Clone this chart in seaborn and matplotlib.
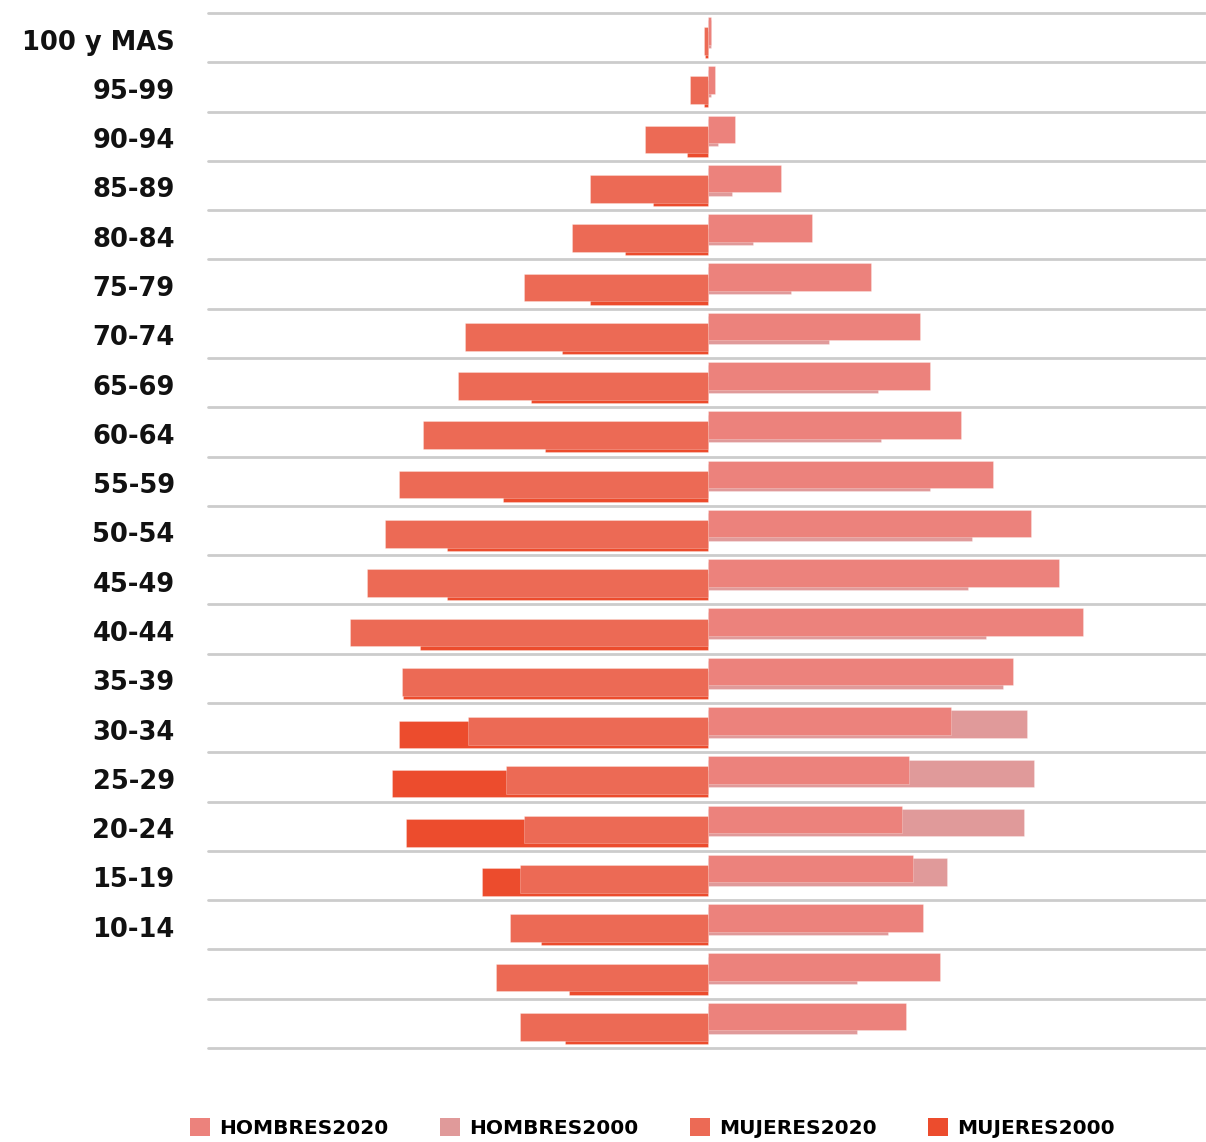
import matplotlib
matplotlib.use("Agg")
import numpy as np
import pandas as pd
import matplotlib.pyplot as plt
import seaborn as sns
from matplotlib.patches import Patch

# Age groups from oldest (top) to youngest (bottom)
age_groups = ["100 y MAS", "95-99", "90-94", "85-89", "80-84", "75-79", "70-74",
              "65-69", "60-64", "55-59", "50-54", "45-49", "40-44", "35-39",
              "30-34", "25-29", "20-24", "15-19", "10-14", "5-9", "0-4"]
tick_labels = age_groups[:19] + ["", ""]

hombres_2020 = [3.3, 7.3, 27.6, 73.0, 104.3, 163.3, 212.0, 222.3, 253.6, 285.0, 323.0,
                351.0, 375.3, 305.6, 243.3, 201.3, 194.6, 205.0, 215.3, 232.6, 198.0]
hombres_2000 = [3.0, 3.3, 10.6, 24.3, 45.0, 83.3, 121.6, 170.3, 173.6, 222.3, 264.3,
                260.6, 278.3, 295.3, 319.6, 326.6, 316.3, 239.6, 180.6, 149.3, 149.3]
mujeres_2020 = [3.5, 17.5, 62.5, 118.0, 135.4, 184.0, 243.0, 250.0, 284.7, 309.0, 323.0,
                340.4, 357.7, 305.7, 239.7, 201.4, 184.0, 187.7, 197.7, 211.7, 187.7]
mujeres_2000 = [3.0, 3.5, 21.0, 55.0, 83.0, 118.0, 145.7, 177.0, 163.0, 204.7, 260.4,
                260.4, 288.0, 305.0, 309.0, 316.0, 302.0, 225.7, 166.7, 138.7, 142.4]

series_names = ["HOMBRES2020", "HOMBRES2000", "MUJERES2020", "MUJERES2000"]
colors = {"HOMBRES2020": "#ec827c", "HOMBRES2000": "#e09a9a",
          "MUJERES2020": "#ec6a55", "MUJERES2000": "#ec4c2d"}
# vertical shift of each series inside its age band (overlapping bars)
shift = {"HOMBRES2020": -0.14, "HOMBRES2000": -0.072,
         "MUJERES2020": 0.068, "MUJERES2000": 0.136}
side = {"HOMBRES2020": 1, "HOMBRES2000": 1, "MUJERES2020": -1, "MUJERES2000": -1}
values = {"HOMBRES2020": hombres_2020, "HOMBRES2000": hombres_2000,
          "MUJERES2020": mujeres_2020, "MUJERES2000": mujeres_2000}

sns.set_theme(style="white")
plt.rcParams["font.family"] = ["DejaVu Sans"]

fig = plt.figure(figsize=(12.06, 11.42), dpi=100)
ax = fig.add_axes([208 / 1206, 1 - 1048 / 1142, 997 / 1206, 1035 / 1142])

n = len(age_groups)
for b in np.arange(-0.5, n + 0.5, 1.0):
    ax.axhline(b, color="#cccccc", lw=2.0, zorder=0, clip_on=False)

# 2000 drawn first, 2020 on top
for name in ["HOMBRES2000", "HOMBRES2020", "MUJERES2000", "MUJERES2020"]:
    df = pd.DataFrame({
        "pos": np.arange(n) + shift[name],
        "value": side[name] * np.asarray(values[name]),
    })
    sns.barplot(data=df, x="value", y="pos", orient="y", native_scale=True,
                width=0.56, color=colors[name], saturation=1, errorbar=None,
                edgecolor=(1, 1, 1, 0.3), linewidth=0.6, ax=ax, zorder=2)

ax.set_xlim(-499.7, 497.3)
ax.set_ylim(n - 0.5, -0.5)
ax.set_xticks([])
ax.set_yticks(np.arange(n) + 0.04)
ax.set_yticklabels(tick_labels, fontsize=18.5, fontweight="bold", color="#111111")
ax.tick_params(axis="y", length=0, pad=24)
ax.set_xlabel("")
ax.set_ylabel("")
for s in ax.spines.values():
    s.set_visible(False)

handles = [Patch(facecolor=colors[nm], edgecolor="none") for nm in series_names]
fig.legend(handles, series_names, ncol=4, loc="center",
           bbox_to_anchor=(0.541, 0.0125), frameon=False,
           prop={"weight": "bold", "size": 14.5}, labelcolor="#000000",
           handlelength=1.0, handleheight=1.0, handletextpad=0.45,
           columnspacing=2.55, borderpad=0, borderaxespad=0)

fig.savefig("out.png", dpi=100, facecolor="white")
